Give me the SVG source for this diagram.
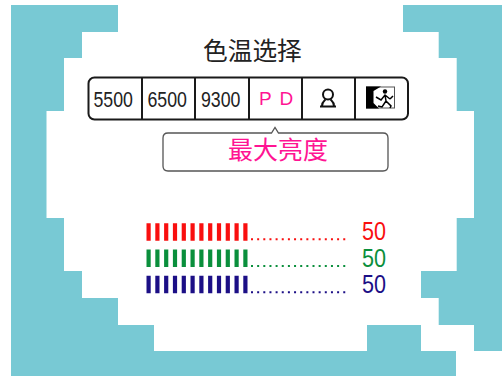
<svg xmlns="http://www.w3.org/2000/svg" width="502" height="376" viewBox="0 0 502 376">
<style>
.bg{fill:#78c9d4}
.cn{font-family:"Noto Sans CJK SC","Liberation Serif",serif}
.num{font-family:"Liberation Sans",Arial,sans-serif}
.val{font-size:22px;fill:#222}
.big{font-size:25px;fill:none}
.sep{stroke:#1a1a1a;stroke-width:2;fill:none}
.bar{stroke-width:17.500;stroke-dasharray:4.200 4.600;fill:none}
.dot{stroke-width:2;stroke-dasharray:2 4.150;fill:none}
.r{stroke:#f90f0f}
.g{stroke:#0a8f3c}
.b{stroke:#1c0f86}
</style>
<rect width="502" height="376" fill="#fff"/>
<path id="left-bg" class="bg" d="M11 5H118V32H82V58H64V111H46.500V218H64V271H82V298H118V325H154V351H367V325H421V351H456V376H11Z"/>
<path id="right-bg" class="bg" d="M403 5H502V351H474V325H438.700V298H421V271H456.700V218H474V111H456.700V58H438.700V32H403Z"/>
<g id="title"><text class="cn" x="203" y="59.500" font-size="24.700" fill="#222">色温选择</text></g>
<g id="tabs">
<rect x="88.500" y="77.500" width="319.500" height="42" rx="6" class="sep"/>
<path class="sep" d="M142 77V120M195 77V120M249 77V120M302 77V120M355 77V120"/>
<text class="num val" x="93.500" y="106.500" textLength="39.500" lengthAdjust="spacingAndGlyphs">5500</text>
<text class="num val" x="147.500" y="106.500" textLength="39.500" lengthAdjust="spacingAndGlyphs">6500</text>
<text class="num val" x="201" y="106.500" textLength="39.500" lengthAdjust="spacingAndGlyphs">9300</text>
<text class="num" x="259 279.500" y="105" font-size="19" fill="#ff1493">PD</text>
<g fill="none" stroke="#111" stroke-width="2"><circle cx="328" cy="94.500" r="5"/><path d="M322 106C322 102 324 101 325.500 99.500M334 106C334 102 332 101 330.500 99.500M320 106.500H336"/></g>
<g>
<rect x="366.500" y="87" width="28" height="21" fill="#fff" stroke="#555" stroke-width="1"/>
<path d="M366 86.500H381L373.500 91V103L379 108.500H366Z" fill="#000"/>
<circle cx="385" cy="91.500" r="2.200" fill="#000"/>
<path d="M376 97L381 100L385 95L390 99M385 95L386 101L382 107L378 106M386 101L391 106L390 108M390 99L393 96" fill="none" stroke="#000" stroke-width="1.500"/>
</g>
</g>
<g id="tooltip"><path d="M168 133H271.500L275 127.500L278.500 133H383Q388 133 388 138V166Q388 171 383 171H168Q163 171 163 166V138Q163 133 168 133Z" fill="#fff" stroke="#555" stroke-width="1.300"/>
<text class="cn" x="228" y="158.500" font-size="25" fill="#ff1493">最大亮度</text></g>
<g id="bars">
<path class="bar r" d="M146.500 232H248"/>
<path class="bar g" d="M146.500 258.300H248"/>
<path class="bar b" d="M146.500 284.500H248"/>
<path class="dot r" d="M251 239.300H346"/>
<path class="dot g" d="M251 266H346"/>
<path class="dot b" d="M251 292.300H346"/>
<text class="num" x="362" y="240" font-size="25" textLength="24" lengthAdjust="spacingAndGlyphs" fill="#f90f0f">50</text>
<text class="num" x="362" y="266.500" font-size="25" textLength="24" lengthAdjust="spacingAndGlyphs" fill="#0a8f3c">50</text>
<text class="num" x="362" y="293" font-size="25" textLength="24" lengthAdjust="spacingAndGlyphs" fill="#1c0f86">50</text>
</g>
</svg>
